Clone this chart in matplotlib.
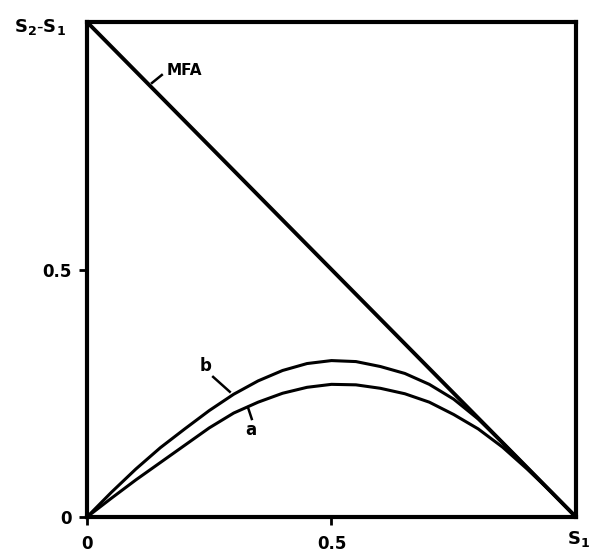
import matplotlib

matplotlib.use("Agg")
import matplotlib.pyplot as plt

# values
S1_MFA = [0.0, 1.0]
DS_MFA = [1.0, 0.0]

S1_B = [0.0, 0.05, 0.10, 0.15, 0.20, 0.25, 0.30, 0.35, 0.40, 0.45, 0.50,
        0.55, 0.60, 0.65, 0.70, 0.75, 0.80, 0.85, 0.90, 0.95, 1.0]
DS_B = [0.0, 0.050, 0.097, 0.140, 0.178, 0.215, 0.248, 0.275, 0.296, 0.310, 0.316,
        0.314, 0.304, 0.290, 0.268, 0.238, 0.198, 0.150, 0.100, 0.050, 0.0]

S1_A = [0.0, 0.05, 0.10, 0.15, 0.20, 0.25, 0.30, 0.35, 0.40, 0.45, 0.50,
        0.55, 0.60, 0.65, 0.70, 0.75, 0.80, 0.85, 0.90, 0.95, 1.0]
DS_A = [0.0, 0.038, 0.075, 0.110, 0.145, 0.180, 0.210, 0.232, 0.250, 0.262, 0.268,
        0.267, 0.260, 0.249, 0.232, 0.207, 0.178, 0.141, 0.097, 0.050, 0.0]

TICKS = [0.0, 0.5]
TICK_LABELS = ["0", "0.5"]

fig = plt.figure(figsize=(5.93, 5.53), dpi=100)
ax = fig.add_axes([0.1467, 0.0651, 0.8246, 0.8951])

ax.plot(S1_MFA, DS_MFA, color="black", lw=2.8, solid_capstyle="butt")
ax.plot(S1_B, DS_B, color="black", lw=2.2, solid_joinstyle="round")
ax.plot(S1_A, DS_A, color="black", lw=2.2, solid_joinstyle="round")

ax.set_xlim(0, 1)
ax.set_ylim(0, 1)
for sp in ax.spines.values():
    sp.set_linewidth(3.0)

ax.set_xticks(TICKS)
ax.set_yticks(TICKS)
ax.set_xticklabels(TICK_LABELS, fontsize=12, fontweight="bold")
ax.set_yticklabels(TICK_LABELS, fontsize=12, fontweight="bold")
ax.tick_params(axis="both", direction="out", length=6, width=2.0)
ax.tick_params(axis="x", pad=7)
ax.tick_params(axis="y", pad=5)

# curve labels with leader lines
ax.text(0.163, 0.902, "MFA", fontsize=11, fontweight="bold", ha="left", va="center")
ax.plot([0.133, 0.153], [0.877, 0.893], color="black", lw=1.8)

ax.text(0.243, 0.305, "b", fontsize=12, fontweight="bold", ha="center", va="center")
ax.plot([0.258, 0.292], [0.283, 0.253], color="black", lw=1.8)

ax.text(0.335, 0.175, "a", fontsize=12, fontweight="bold", ha="center", va="center")
ax.plot([0.329, 0.337], [0.222, 0.198], color="black", lw=1.8)

# axis names
fig.text(0.068, 0.951, r"$\mathbf{S_2}$-$\mathbf{S_1}$", fontsize=13,
         ha="center", va="center")
fig.text(0.975, 0.026, r"$\mathbf{S_1}$", fontsize=13, ha="center", va="center")

fig.savefig("out.png", dpi=100)
